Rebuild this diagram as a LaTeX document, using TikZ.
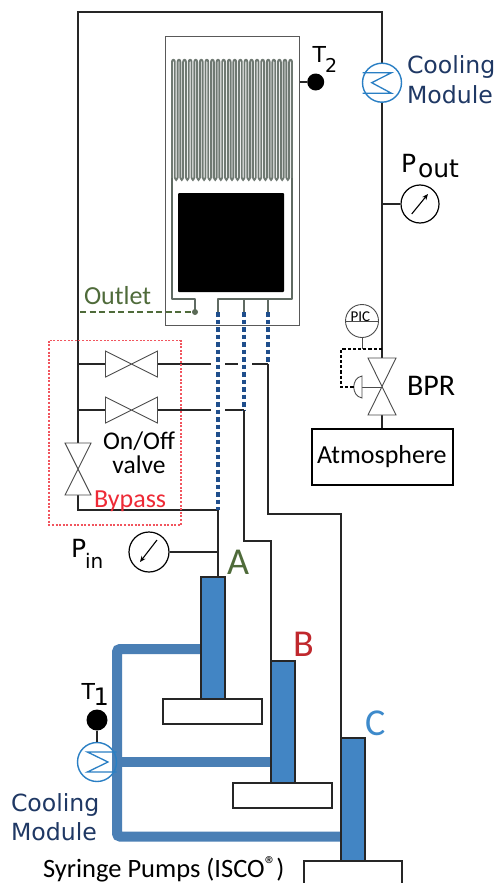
\documentclass[tikz,border=0pt]{standalone}
\usepackage{fontspec}
\setmainfont{Carlito}
\newfontfamily\dvs{DejaVu Sans}
\usetikzlibrary{arrows.meta}
\definecolor{navy}{HTML}{1F3864}
\definecolor{olive}{HTML}{4F6B3A}
\definecolor{chipgray}{HTML}{5F6A62}
\definecolor{pumpblue}{HTML}{4285C4}
\definecolor{pipeblue}{HTML}{4A7FB5}
\definecolor{dotblue}{HTML}{1F4E8C}
\definecolor{hxblue}{HTML}{2A7FC4}
\definecolor{redtxt}{HTML}{EE2A36}
\definecolor{redB}{HTML}{C0282D}
\definecolor{blueC}{HTML}{3D8ACB}
\tikzset{
  pipe/.style={draw=black!85,line width=1.5pt},
  valve/.style={draw=black!70,line width=0.9pt,fill=white},
  label/.style={inner sep=0pt,outer sep=0pt,anchor=base west,text=black},
  gauge/.style={circle,draw=black,line width=1.2pt,minimum size=38pt,inner sep=0pt,fill=white},
  hxc/.style={circle,draw=hxblue,line width=1.4pt,minimum size=39pt,inner sep=0pt},
  hxz/.style={draw=hxblue,line width=1.3pt},
  dotpipe/.style={draw=dotblue,line width=3.2pt,dash pattern=on 4.5pt off 3pt},
  coolant/.style={draw=pipeblue,line width=10pt,rounded corners=3pt},
  pump/.style={rectangle,draw=black!85,line width=1.5pt,fill=pumpblue,inner sep=0pt,outer sep=0pt},
  base/.style={rectangle,draw=black!85,line width=1.5pt,fill=white,inner sep=0pt},
  channel/.style={draw=chipgray,line width=1.5pt,line join=round},
  tdot/.style={circle,fill=black,inner sep=0pt},
  fs/.style={font=\fontsize{#1}{#1}\selectfont},
  dfs/.style={font=\dvs\fontsize{#1}{#1}\selectfont}
}
\begin{document}
\begin{tikzpicture}[x=1pt,y=-1pt]
\useasboundingbox[fill=white] (0,0) rectangle (498,883);

% chip
\node[rectangle,draw=black!65,line width=1pt,minimum width=134pt,minimum height=288pt,inner sep=0pt] (chip) at (232,181) {};
\foreach \i in {0,...,21}{
  \pgfmathsetmacro\xa{172+5.58*\i}
  \pgfmathsetmacro\xb{\xa+2.79}
  \pgfmathsetmacro\xc{\xa+5.58}
  \draw[draw=chipgray!90!white,line width=1.9pt,line join=round] (\xa,178) -- (\xa,62) .. controls (\xa,59) and (\xb,59) .. (\xb,62) -- (\xb,178);
  \ifnum\i<21
    \draw[draw=chipgray!90!white,line width=1.9pt] (\xb,178) .. controls (\xb,180.5) and (\xc,180.5) .. (\xc,178);
  \fi
}
\node[rectangle,fill=black,minimum width=106pt,minimum height=99pt,inner sep=0pt,rounded corners=1pt] (core) at (231,242.5) {};
\coordinate (outP) at (195,312);
\coordinate (inA) at (218,312);
\coordinate (inB) at (244,312);
\coordinate (inC) at (268,312);
\draw[channel] (172,178) |- (195,299) -- (outP);
\draw[channel] (292,178) |- (218,299) -- (inA);
\draw[channel] (inB) -- (244,299);
\draw[channel] (inC) -- (268,299);

% main loop and junctions
\coordinate (tl) at (78,12);
\coordinate (tr) at (382,12);
\coordinate (jA) at (218,510);
\coordinate (jB) at (244,410);
\coordinate (jC) at (268,364);

\node[rectangle,draw=black,line width=1.2pt,minimum width=141pt,minimum height=56pt,inner sep=0pt] (atm) at (382.5,457) {};
\coordinate (bprT) at (382,358);
\coordinate (bprB) at (382,415);
\coordinate (bprM) at (382,387);
\coordinate (vT) at (78,443);
\coordinate (vB) at (78,495);
\coordinate (v1L) at (105.5,364);
\coordinate (v1R) at (157.5,364);
\coordinate (v2L) at (105.5,410);
\coordinate (v2R) at (157.5,410);
\coordinate (l1) at (78,364);
\coordinate (l2) at (78,410);

\draw[pipe] (vT) -- (tl) -- (tr) -- (bprT);
\draw[pipe] (vB) |- (jA);
\draw[pipe] (l1) -- (v1L);
\draw[pipe] (l2) -- (v2L);
\draw[pipe] (v1R) -- (210.5,364) (225,364) -- (237.5,364) (252,364) -- (jC);
\draw[pipe] (v2R) -- (210.5,410) (225,410) -- (jB);
\draw[pipe] (bprB) -- (bprB |- atm.north);

% valves
\draw[valve] (105.5,351) -- (157.5,377) -- (157.5,351) -- (105.5,377) -- cycle;
\draw[valve] (105.5,397) -- (157.5,423) -- (157.5,397) -- (105.5,423) -- cycle;
\draw[valve] (65,443) -- (91,495) -- (65,495) -- (91,443) -- cycle;
\draw[valve] (368,358) -- (396,415) -- (368,415) -- (396,358) -- cycle;

% dotted
\draw[dotpipe] (inA) -- (jA);
\draw[dotpipe] (inB) -- (jB);
\draw[dotpipe] (inC) -- (jC);
\draw[draw=olive,line width=2.4pt,dash pattern=on 6pt off 3.5pt] (80,312) -- (outP);
\fill[chipgray!70!olive] (outP) circle (3pt);

% coolant
\coordinate (cA) at (201,649);
\coordinate (cB) at (271,761.5);
\coordinate (cC) at (341,836.5);
\draw[coolant] (cA) -| (117,836.5) -- (cC);
\draw[coolant] (117,761.5) -- (cB);

% pumps
\node[base,minimum width=99pt,minimum height=25pt] (baseA) at (212.5,711.5) {};
\node[base,minimum width=99pt,minimum height=25pt] (baseB) at (282.5,795.5) {};
\node[pump,minimum width=24pt,minimum height=122pt] (pumpA) at (213,638) {};
\node[pump,minimum width=24pt,minimum height=122pt] (pumpB) at (283,722) {};
\node[pump,minimum width=24pt,minimum height=123pt] (pumpC) at (353,799.5) {};
\coordinate (bcL) at (304,884);
\coordinate (bcR) at (402,884);
\draw[draw=black!85,line width=1.5pt] (bcL) |- (402,861) -- (bcR);
\draw[pipe] (jA) -- (jA |- pumpA.north);
\draw[pipe] (jB) |- (pumpB.north west |- 0,541) -- (pumpB.north west);
\draw[pipe] (jC) |- (pumpC.north west |- 0,514) -- (pumpC.north west);

% bypass box
\draw[draw=redtxt!80!white,line width=1.3pt,dash pattern=on 2pt off 1.6pt] (49,340.7) rectangle (181,525);

% gauges
\node[gauge] (pout) at (420,204) {};
\draw[pipe] (pout) -- (382,204);
\draw[line width=1.1pt,-{Stealth[length=6pt,width=5pt]}] (411.7,214) -- (428,194);
\node[gauge,minimum size=40pt] (pin) at (149,552) {};
\draw[pipe] (pin) -- (218,552);
\draw[line width=1.1pt,-{Stealth[length=6pt,width=5pt]}] (157,540) -- (140,562);

% temperature sensors
\node[tdot,minimum size=17pt] (t2) at (315.7,82) {};
\draw[pipe] (chip.east |- t2) -- (t2);
\node[hxc,fill=white] (hx2) at (382,82.7) {};
\draw[hxz] (362.5,72.7) -- (391.5,72.7) -- (371.7,82.7) -- (391.5,93.3) -- (362.5,93.3);
\node[hxc] (hx1) at (97,762) {};
\draw[hxz] (116.6,752) -- (87.4,752) -- (108,762) -- (87.4,772) -- (116.6,772);
\node[tdot,minimum size=21pt] (t1) at (97,720) {};
\draw[pipe] (t1) -- (hx1);

% PIC and BPR actuator
\node[circle,draw=black!70,line width=0.9pt,minimum size=33pt,inner sep=0pt,fill=white] (pic) at (362,321) {};
\draw[draw=black!70,line width=0.9pt] (pic.west) -- (pic.east);
\node[label,fs=15] (pictxt) at (350.5,321) {PIC};
\coordinate (sense) at (382,349);
\coordinate (pstem) at (362,349);
\coordinate (dia) at (362,387);
\coordinate (act) at (354,387);
\draw[draw=black!70,line width=0.9pt] (pic.south) -- (pstem);
\draw[draw=black!70,line width=0.9pt] (dia) -- (bprM);
\draw[draw=black!70,line width=0.9pt,fill=white] (362,376) .. controls (351,378) and (351,396) .. (362,398) -- cycle;
\draw[draw=black,line width=1.5pt,dash pattern=on 3.2pt off 2pt] (sense) -| (341,387) -- (act);

% labels
\node[label,dfs=23.6,text=navy] (cm2a) at (407,74) {Cooling};
\node[label,dfs=23.6,text=navy] (cm2b) at (407,103) {Module};
\node[label,dfs=23.6,text=navy] (cm1a) at (11,811) {Cooling};
\node[label,dfs=23.6,text=navy] (cm1b) at (11,840) {Module};
\node[label,dfs=25] (p1) at (401,172) {P};
\node[label,dfs=25] (p2) at (418,177) {out};
\node[label,dfs=25] (p3) at (71,557) {P};
\node[label,dfs=20] (p4) at (85,568) {in};
\node[label,dfs=22] (tt2) at (312.5,63) {T};
\node[label,dfs=19] (tt2s) at (325,72) {2};
\node[label,dfs=22] (tt1) at (81.5,699) {T};
\node[label,dfs=24] (tt1s) at (93.5,705) {1};
\node[label,fs=26,text=olive] (outlet) at (84,304) {Outlet};
\node[inner sep=0pt,align=center,font=\fontsize{25.5}{24}\selectfont] (onoff) at (139,453) {On/Off\\valve};
\node[label,fs=26,text=redtxt] (bypass) at (94,507) {Bypass};
\node[label,fs=30] (bpr) at (407,395) {BPR};
\node[label,fs=26] (atmtxt) at (317,463) {Atmosphere};
\node[label,fs=38,text=olive] (A) at (227,574) {A};
\node[label,fs=38,text=redB] (B) at (293,656) {B};
\node[label,fs=38,text=blueC] (C) at (365,735) {C};
\node[label,fs=26.5] (syr) at (43,877) {Syringe Pumps (ISCO\raisebox{5pt}{\fontsize{23}{23}\selectfont ®})};
\end{tikzpicture}
\end{document}
